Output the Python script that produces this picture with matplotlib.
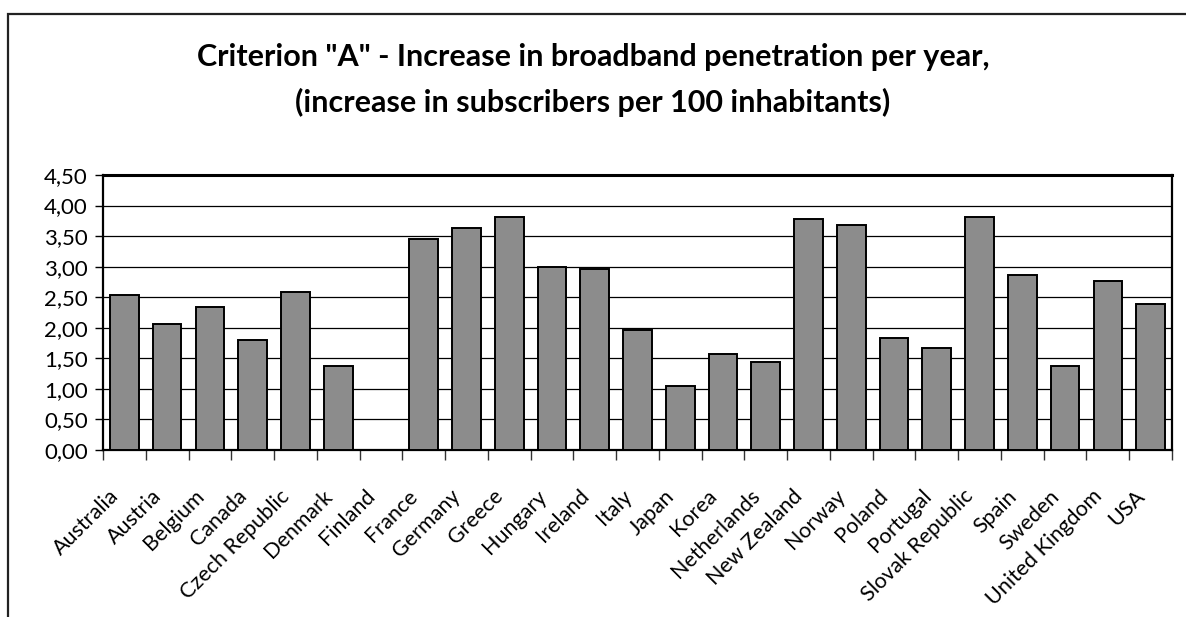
import matplotlib
matplotlib.use("Agg")
import matplotlib.pyplot as plt
import matplotlib.transforms as mtransforms
from matplotlib.patches import Rectangle
from matplotlib.ticker import FixedLocator, FuncFormatter

plt.rcParams['font.family'] = ['Lato', 'DejaVu Sans']

countries = ["Australia", "Austria", "Belgium", "Canada", "Czech Republic",
             "Denmark", "Finland", "France", "Germany", "Greece", "Hungary",
             "Ireland", "Italy", "Japan", "Korea", "Netherlands", "New Zealand",
             "Norway", "Poland", "Portugal", "Slovak Republic", "Spain",
             "Sweden", "United Kingdom", "USA"]
increase = [2.53, 2.07, 2.34, 1.80, 2.59,
            1.38, 0.00, 3.45, 3.64, 3.81, 2.99,
            2.96, 1.96, 1.05, 1.57, 1.44, 3.78,
            3.68, 1.84, 1.67, 3.81, 2.86,
            1.38, 2.76, 2.39]
y_ticks = [0.0, 0.5, 1.0, 1.5, 2.0, 2.5, 3.0, 3.5, 4.0, 4.5]

title_lines = ['Criterion "A" - Increase in broadband penetration per year,',
               '(increase in subscribers per 100 inhabitants)']

W, H = 1186, 617
fig = plt.figure(figsize=(W / 100, H / 100), dpi=100)

# outer chart frame (open at right and bottom edges)
fig.add_artist(Rectangle((8 / W, -0.1), 1.2, 1 - 14 / H + 0.1,
                         transform=fig.transFigure, fill=False,
                         edgecolor="#222222", linewidth=1.6))

ax = fig.add_axes([103 / W, 1 - 450 / H, (1172 - 103) / W, (450 - 175) / H])

n = len(countries)
x = list(range(n))
ax.bar(x, increase, width=0.67, color="#8c8c8c", edgecolor="black",
       linewidth=1.4, zorder=3)

ax.set_xlim(-0.5, n - 0.5)
ax.set_ylim(0, 4.5)
ax.yaxis.set_major_locator(FixedLocator(y_ticks))
ax.yaxis.set_major_formatter(FuncFormatter(lambda v, p: f"{v:.2f}".replace(".", ",")))
ax.grid(axis="y", color="black", linewidth=0.9, zorder=0)
ax.set_axisbelow(True)

for side in ["left", "right", "bottom", "top"]:
    ax.spines[side].set_color("black")
    ax.spines[side].set_linewidth(1.6)
ax.spines["top"].set_linewidth(2.2)

ax.tick_params(axis="y", direction="out", length=6, width=1, labelsize=16,
               pad=5, color="black")

# category labels on major ticks, boundary marks on minor ticks
ax.set_xticks(x)
ax.set_xticks([i - 0.5 for i in range(n + 1)], minor=True)
ax.tick_params(axis="x", which="major", length=0, pad=31)
ax.tick_params(axis="x", which="minor", direction="out", length=7, width=1,
               color="#333333")
ax.set_xticklabels(countries, rotation=45, ha="right", va="center",
                   rotation_mode="anchor", fontsize=15.5)
shift = mtransforms.ScaledTranslation(-9 / 100, 0, fig.dpi_scale_trans)
for lbl in ax.get_xticklabels():
    lbl.set_transform(lbl.get_transform() + shift)

fig.text(593 / W, 1 - 66 / H, title_lines[0], ha="center", va="baseline",
         fontsize=22, fontweight="bold")
fig.text(593 / W, 1 - 112 / H, title_lines[1], ha="center", va="baseline",
         fontsize=22, fontweight="bold")

fig.savefig("out.png", dpi=100, facecolor="white")
